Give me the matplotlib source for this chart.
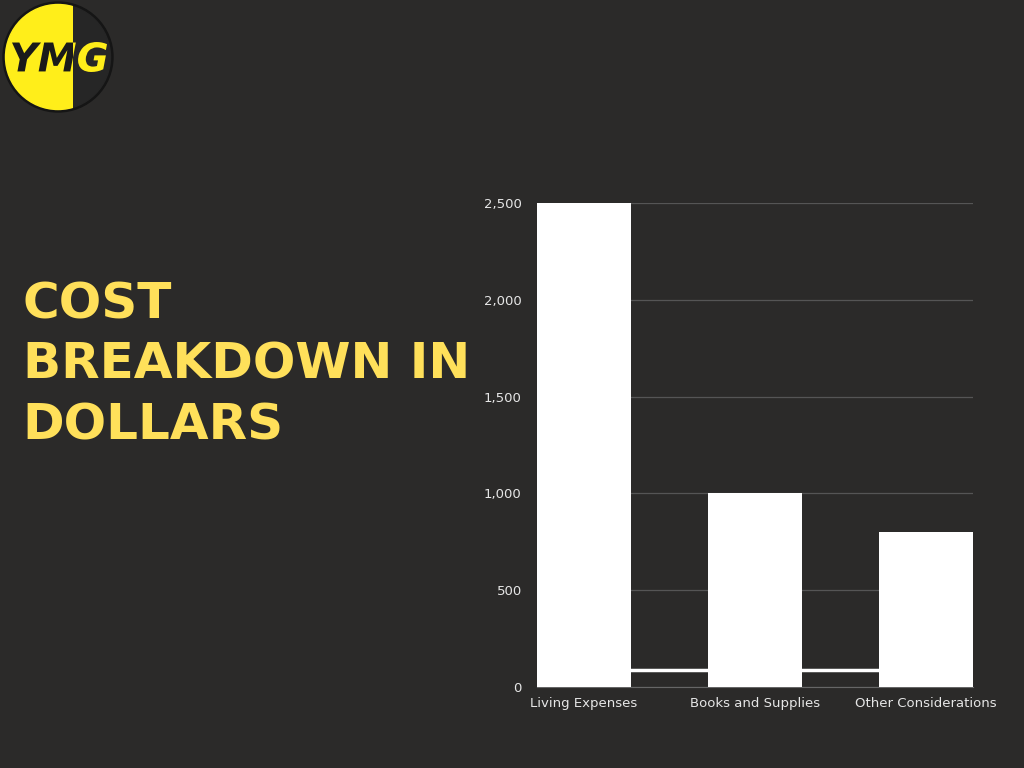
import matplotlib.pyplot as plt
from matplotlib.patches import Circle, Rectangle, PathPatch
from matplotlib.textpath import TextPath
from matplotlib.font_manager import FontProperties
from matplotlib.transforms import Affine2D
from matplotlib.ticker import FuncFormatter

categories = ["Living Expenses", "Books and Supplies", "Other Considerations"]
costs = [2500, 1000, 800]
baseline = [88, 88, 88]
yticks = [0, 500, 1000, 1500, 2000, 2500]

bg = "#2b2a29"
yellow = "#ffe05a"
logo_yellow = "#ffee1a"

fig = plt.figure(figsize=(10.24, 7.68), dpi=100, facecolor=bg)

# title on the left
fig.text(0.022, 0.525, "COST\nBREAKDOWN IN\nDOLLARS", color=yellow, fontsize=36,
         fontweight="bold", family="DejaVu Sans", va="center", ha="left",
         linespacing=1.33)

# logo, drawn in pixel units
lax = fig.add_axes([0, 1 - 120 / 768, 130 / 1024, 120 / 768])
lax.set_xlim(0, 130)
lax.set_ylim(0, 120)
lax.axis("off")
cx, cy, r = 58, 63, 55
lax.add_patch(Circle((cx, cy), r, color="#151515"))
lax.add_patch(Circle((cx, cy), r - 2.5, color="#262626"))
ycirc = Circle((cx, cy), r - 2.5, color=logo_yellow)
lax.add_patch(ycirc)
left_clip = Rectangle((0, 0), 73, 120, transform=lax.transData)
ycirc.set_clip_path(left_clip)

tp = TextPath((0, 0), "YMG", size=40, prop=FontProperties(family="DejaVu Sans", weight="bold", style="italic"))
ext = tp.get_extents()
sx = 95 / ext.width
sy = 30 / ext.height
tr = Affine2D().translate(-ext.x0, -ext.y0).scale(sx, sy).translate(12, 120 - 72)
for col, clip in [("#1a1a1a", Rectangle((0, 0), 73, 120)), (logo_yellow, Rectangle((73, 0), 60, 120))]:
    pp = PathPatch(tr.transform_path(tp), color=col, lw=0)
    lax.add_patch(pp)
    clip.set_transform(lax.transData)
    pp.set_clip_path(clip)

# bar chart
bw = 0.55
ax = fig.add_axes([0.5244, 0.1055, 0.4258, 0.6302])
ax.set_facecolor(bg)
x = list(range(len(categories)))
ax.plot(x, baseline, color="white", lw=2.5, zorder=2)
ax.bar(x, costs, width=bw, color="white", zorder=3)
ax.set_xlim(-bw / 2, len(categories) - 1 + bw / 2)
ax.set_ylim(0, 2500)
ax.set_yticks(yticks)
ax.yaxis.set_major_formatter(FuncFormatter(lambda v, p: f"{int(v):,}"))
ax.grid(axis="y", color="#555555", lw=0.9, zorder=0)
ax.set_axisbelow(True)
for s in ["top", "right", "left"]:
    ax.spines[s].set_visible(False)
ax.spines["bottom"].set_color("#666666")
ax.tick_params(axis="y", length=0, colors="#e6e6e6", labelsize=9.5, pad=11)
ax.tick_params(axis="x", length=0, colors="#e6e6e6", labelsize=9.5, pad=7)
ax.set_xticks(x)
ax.set_xticklabels(categories)

fig.savefig("out.png", dpi=100, facecolor=bg)
